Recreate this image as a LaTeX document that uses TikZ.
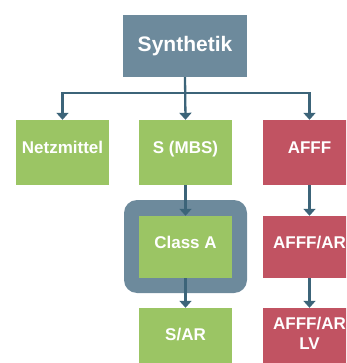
\documentclass[tikz,border=0pt]{standalone}
\usepackage{fontspec}
\setmainfont{Liberation Sans}
\usetikzlibrary{arrows.meta}
\definecolor{slate}{HTML}{6D8A9C}
\definecolor{linecol}{HTML}{3C6479}
\definecolor{leaf}{HTML}{9BC564}
\definecolor{rose}{HTML}{C15362}
\begin{document}
\begin{tikzpicture}[x=1pt,y=-1pt,
  boxbase/.style={rectangle, inner sep=0pt, text=white,
    font=\bfseries\fontsize{17}{20}\selectfont,
    minimum width=93pt, minimum height=62pt,
    text height=12pt, text depth=10pt, align=center},
  titlebox/.style={boxbase, fill=slate, minimum width=124pt,
    font=\bfseries\fontsize{21}{24}\selectfont, text height=15pt, text depth=4pt},
  greenbox/.style={boxbase, fill=leaf},
  redbox/.style={boxbase, fill=rose},
  tallrow/.style={minimum height=65pt},
  frame/.style={rectangle, fill=slate, rounded corners=13pt, inner sep=0pt,
    minimum width=123pt, minimum height=93pt},
  conn/.style={draw=linecol, line width=2.3pt,
    -{Triangle[width=12pt,length=7pt]}}]
\useasboundingbox (0,0) rectangle (346,363);
\clip (0,0) rectangle (346,363);

% root
\node[titlebox] (syn) at (185,46) {Synthetik};

% first level
\node[greenbox, tallrow] (net) at (62.5,152.5) {Netzmittel};
\node[greenbox, tallrow] (smbs) at (185.5,152.5) {S (MBS)};
\node[redbox, tallrow] (afff) at (309.5,152.5) {AFFF};

% highlighted frame behind Class A
\node[frame] (hl) at (185.5,246.5) {};

% second level
\node[greenbox] (classa) at (185.5,247) {Class A};
\node[redbox] (afffar) at (309.5,247) {AFFF/AR};

% third level
\node[greenbox] (sar) at (185.5,339) {S/AR};
\node[redbox, text height=20pt, text depth=0pt] (afffarlv) at (309.5,339) {AFFF/AR\\LV};

% connectors
\draw[conn] (syn.south) -- ++(0,16) coordinate (split) -| (net.north);
\draw[conn] (split) -| (afff.north);
\draw[conn] (syn.south) -- (smbs.north);
\draw[conn] (smbs.south) -- (classa.north);
\draw[conn] (afff.south) -- (afffar.north);
\draw[conn] (classa.south) -- (sar.north);
\draw[conn] (afffar.south) -- (afffarlv.north);
\end{tikzpicture}
\end{document}
